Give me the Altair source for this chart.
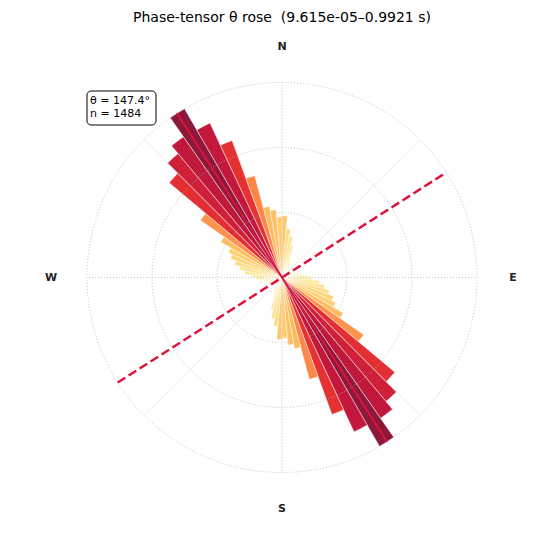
import math
import pandas as pd
import altair as alt

# Rose of phase-tensor strike angles, 5-degree bins over 0-180 (mirrored to 180-360)
bin_start = list(range(0, 180, 5))
counts = [43, 34, 29, 23, 15, 12, 10, 8, 7, 6,
          7, 8, 9, 10, 11, 12, 15, 18,
          21, 26, 30, 34, 38, 41, 49, 69,
          102, 112, 119, 135, 118, 101, 73, 50, 47, 42]
bin_width = 5
theta_mean = 147.4
n_obs = 1484
title_text = "Phase-tensor θ rose\u00a0 (9.615e-05–0.9921 s)"

ring_levels = [45, 90, 135]
spoke_bearings = [0, 45, 90, 135, 180, 225, 270, 315]
compass = ["N", "E", "S", "W"]
compass_bearings = [0, 90, 180, 270]

ylorrd = ["#ffffcc", "#ffeda0", "#fed976", "#feb24c", "#fd8d3c",
          "#fc4e2a", "#e31a1c", "#bd0026", "#800026"]

RMAX = max(counts)
R_PX = 195
CX, CY = 282, 277.5
FONT = "DejaVu Sans"

# wedges: each bin drawn at theta and theta + 180
rows = []
for s, c in zip(bin_start, counts):
    for off in (0, 180):
        rows.append({"a0": s + off, "a1": s + off + bin_width, "count": c})
bars_df = pd.DataFrame(rows)

theta_scale = alt.Scale(domain=[0, 360], range=[0, 2 * math.pi])
r_scale = alt.Scale(type="linear", domain=[0, RMAX], range=[0, R_PX], zero=True, nice=False)
x_scale = alt.Scale(domain=[-RMAX, RMAX], range=[CX - R_PX, CX + R_PX], nice=False, zero=False)
y_scale = alt.Scale(domain=[-RMAX, RMAX], range=[CY + R_PX, CY - R_PX], nice=False, zero=False)
color_scale = alt.Scale(domain=[RMAX * i / 8 for i in range(9)], range=ylorrd)

bars = alt.Chart(bars_df).mark_arc(
    opacity=0.9, stroke="white", strokeWidth=0.5
).encode(
    theta=alt.Theta("a0:Q", scale=theta_scale, stack=False),
    theta2="a1:Q",
    radius=alt.Radius("count:Q", scale=r_scale),
    color=alt.Color("count:Q", scale=color_scale, legend=None),
    x=alt.value(CX), y=alt.value(CY),
)

rings_df = pd.DataFrame({"a0": [0] * len(ring_levels), "a1": [360] * len(ring_levels),
                         "r": ring_levels})
rings = alt.Chart(rings_df).mark_arc(
    filled=False, stroke="#b0b0b0", strokeWidth=0.8, strokeDash=[1, 2]
).encode(
    theta=alt.Theta("a0:Q", scale=theta_scale, stack=False),
    theta2="a1:Q",
    radius=alt.Radius("r:Q", scale=r_scale),
    x=alt.value(CX), y=alt.value(CY),
)


def seg(bearing_a, bearing_b, length):
    ra, rb = math.radians(bearing_a), math.radians(bearing_b)
    return {"x0": length * math.sin(ra), "y0": length * math.cos(ra),
            "x1": length * math.sin(rb), "y1": length * math.cos(rb)}


spokes_df = pd.DataFrame([
    {"x0": 0.0, "y0": 0.0,
     "x1": RMAX * math.sin(math.radians(b)), "y1": RMAX * math.cos(math.radians(b))}
    for b in spoke_bearings
])


def rule_enc():
    return dict(
        x=alt.X("x0:Q", scale=x_scale, axis=None),
        y=alt.Y("y0:Q", scale=y_scale, axis=None),
        x2="x1:Q", y2="y1:Q",
    )


spokes = alt.Chart(spokes_df).mark_rule(
    stroke="#b0b0b0", strokeWidth=0.8, strokeDash=[1, 2]
).encode(**rule_enc())

# principal strike direction and its perpendicular
strike_df = pd.DataFrame([seg(theta_mean + 180, theta_mean, RMAX)])
perp_df = pd.DataFrame([seg(theta_mean - 90 + 180, theta_mean - 90, RMAX)])

strike = alt.Chart(strike_df).mark_rule(
    stroke="#dc143c", strokeWidth=2
).encode(**rule_enc())

perp = alt.Chart(perp_df).mark_rule(
    stroke="#dc143c", strokeWidth=2.5, strokeDash=[9, 4]
).encode(**rule_enc())

lab_r = RMAX * 231 / R_PX
labels_df = pd.DataFrame({
    "t": compass,
    "x": [lab_r * math.sin(math.radians(b)) for b in compass_bearings],
    "y": [lab_r * math.cos(math.radians(b)) for b in compass_bearings],
})
labels = alt.Chart(labels_df).mark_text(
    font=FONT, fontSize=11, fontWeight="bold", color="#222222",
    align="center", baseline="middle"
).encode(
    x=alt.X("x:Q", scale=x_scale, axis=None),
    y=alt.Y("y:Q", scale=y_scale, axis=None),
    text="t:N",
)

title = alt.Chart(pd.DataFrame({"t": [title_text]})).mark_text(
    font=FONT, fontSize=14, color="#000000", align="center", baseline="alphabetic"
).encode(x=alt.value(282), y=alt.value(21.5), text="t:N")

box = alt.Chart(pd.DataFrame({"k": [0]})).mark_rect(
    fill="white", stroke="black", strokeWidth=1, cornerRadius=4
).encode(x=alt.value(87), x2=alt.value(156), y=alt.value(91), y2=alt.value(125))

stats_df = pd.DataFrame({
    "t": [f"θ = {theta_mean}°", f"n = {n_obs}"],
    "yy": [103.5, 117],
})
stats = alt.Chart(stats_df).mark_text(
    font=FONT, fontSize=11, color="#000000", align="left", baseline="alphabetic"
).encode(x=alt.value(90), y=alt.Y("yy:Q", scale=None), text="t:N")

chart = alt.layer(
    bars, rings, spokes, strike, perp, labels, title, box, stats
).properties(
    width=550, height=550,
    autosize=alt.AutoSizeParams(type="none"),
    padding=0,
    background="white",
).configure_view(strokeWidth=0)

chart.save("out.html", embed_options={"renderer": "svg", "actions": False})
